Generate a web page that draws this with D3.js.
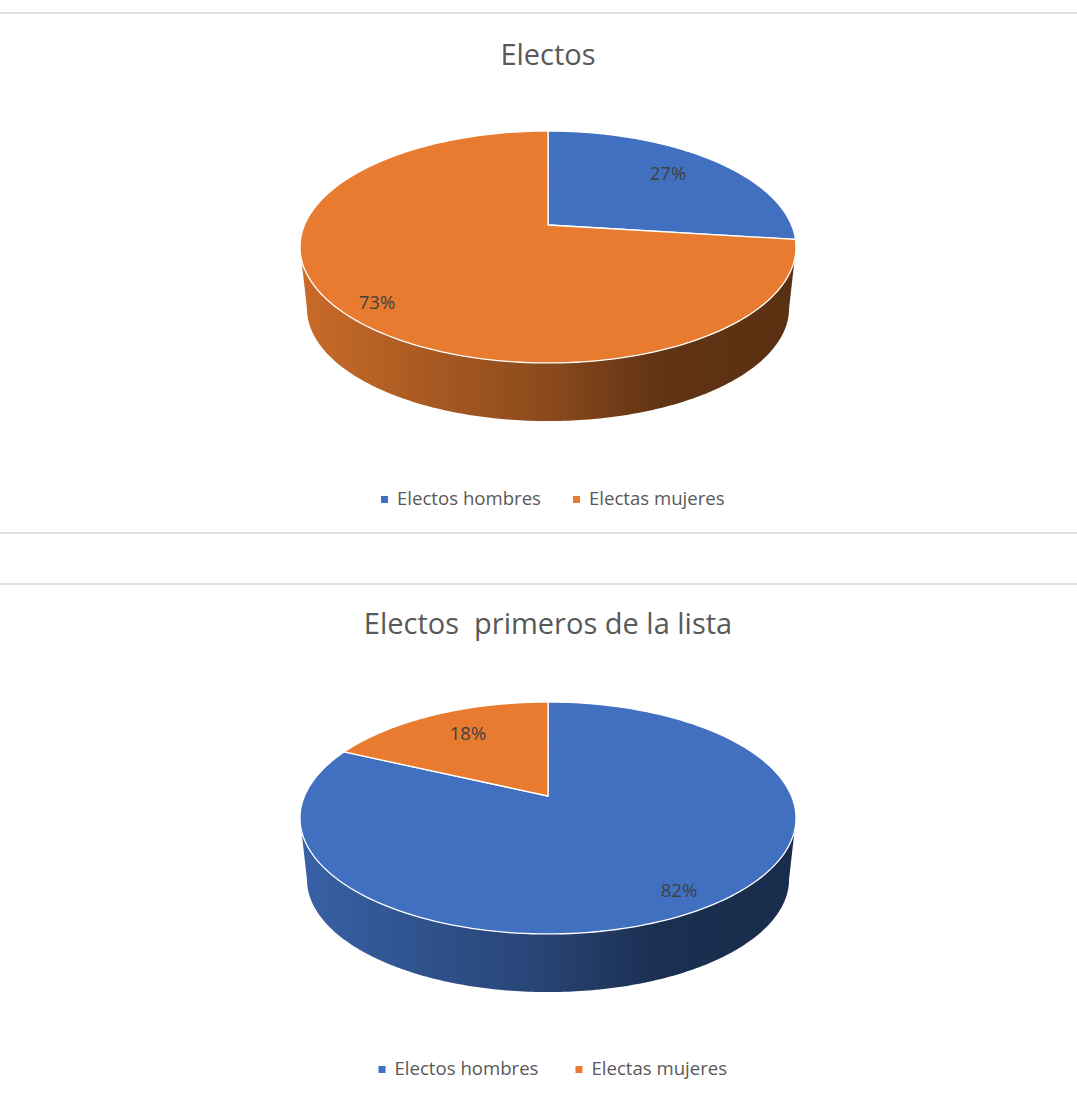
<!DOCTYPE html>
<html><head><meta charset="utf-8"><style>html,body{margin:0;background:#fff}svg{display:block}</style>
<script src="https://cdn.jsdelivr.net/npm/d3@7"></script></head><body><script>
const categories=["Electos hombres","Electas mujeres"];
const chartTitles=["Electos","Electos  primeros de la lista"];
const electosValues=[27,73];
const primerosValues=[82,18];
const colors=["#4170c0","#e87b2f"];
const font="'Open Sans','Noto Sans',sans-serif";
const svg=d3.select("body").append("svg").attr("width",1077).attr("height",1093);
const defs=svg.append("defs");
colors.forEach((c,i)=>{
  const g=defs.append("linearGradient").attr("id","side"+i).attr("gradientUnits","userSpaceOnUse").attr("x1",300).attr("x2",796).attr("y1",0).attr("y2",0);
  const col=d3.rgb(c);
  [[0,.87],[.25,.73],[.5,.6],[.72,.42],[1,.39]].forEach(([o,f])=>g.append("stop").attr("offset",o).attr("stop-color",d3.rgb(col.r*f,col.g*f,col.b*f)));
});
[13,533,584].forEach(y=>svg.append("line").attr("x1",0).attr("x2",1077).attr("y1",y).attr("y2",y).attr("stroke","#d4d4d4").attr("stroke-width",1.5));
// projective view of a tilted circle: the centre sits above the middle of the ellipse
const cx=548,a=243.5,b=111.8,k=-0.1897,wallScale=0.972,wallDrop=62;
const project=(t,tipY,s=1,drop=0)=>{const u=Math.sin(t),v=-Math.cos(t),w=1+k*v;return [cx+s*a*u/w,tipY+drop+s*b*v/w]};
function drawPie(vals,title,titleY,tipY,legendY,legendX,gap,labelPos){
  const g=svg.append("g");
  g.append("text").attr("x",548).attr("y",titleY).attr("text-anchor","middle").attr("font-family",font).attr("font-size",29).attr("fill","#595959").style("white-space","pre").text(title);
  const pie=d3.pie().sort(null)(vals);
  const front=pie.reduce((p,q)=>p.value>q.value?p:q);
  const lo=Math.acos(-0.1897), hi=2*Math.PI-lo;
  const ang=d3.range(0,201).map(i=>lo+(hi-lo)*i/200);
  const wall=ang.map(t=>project(t,tipY)).concat(ang.slice().reverse().map(t=>project(t,tipY,wallScale,wallDrop)));
  g.append("path").attr("d",d3.line()(wall)+"Z").attr("fill","url(#side"+front.index+")");
  pie.forEach((d,i)=>{
    const ts=d3.range(0,201).map(j=>d.startAngle+(d.endAngle-d.startAngle)*j/200);
    const pts=[[cx,tipY]].concat(ts.map(t=>project(t,tipY)));
    g.append("path").attr("d",d3.line()(pts)+"Z").attr("fill",colors[i]).attr("stroke","#fff").attr("stroke-width",1.3).attr("stroke-linejoin","round");
  });
  pie.forEach((d,i)=>{
    g.append("text").attr("x",labelPos[i][0]).attr("y",labelPos[i][1]).attr("text-anchor","middle").attr("font-family",font).attr("font-size",18.5).attr("fill","#404040").text(d3.format(".0f")(d.value)+"%");
  });
  let x=legendX;
  categories.forEach((c,i)=>{
    g.append("rect").attr("x",x).attr("y",legendY-3).attr("width",7).attr("height",7).attr("fill",colors[i]);
    const t=g.append("text").attr("x",x+16).attr("y",legendY+6).attr("font-family",font).attr("font-size",18.6).attr("fill","#595959").text(c);
    x+=16+t.node().getComputedTextLength()+gap;
  });
}
drawPie(electosValues,chartTitles[0],65,225,499,381,32,[[668,180],[377,309]]);
drawPie(primerosValues,chartTitles[1],634,796,1069,378.5,37,[[679,897],[468,740]]);
</script></body></html>
